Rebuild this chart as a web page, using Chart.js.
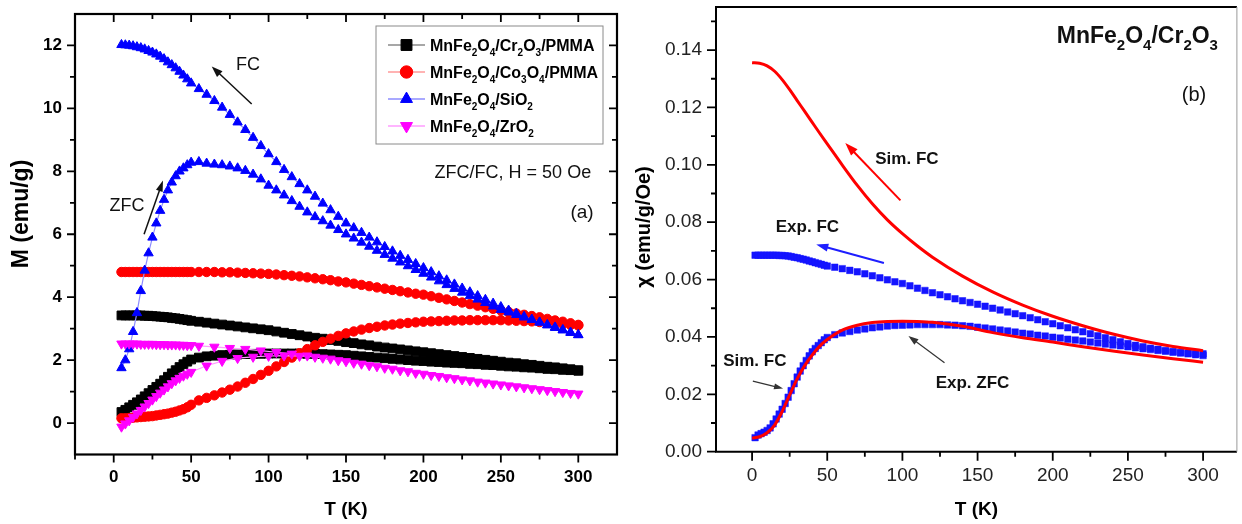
<!DOCTYPE html>
<html>
<head>
<meta charset="utf-8">
<script src="https://cdn.jsdelivr.net/npm/chart.js@4.4.1/dist/chart.umd.min.js"></script>
<style>
  body { margin: 0; background: #fff; width: 1242px; height: 524px; overflow: hidden; position: relative; }
  canvas { position: absolute; top: 0; }
  #chartA { left: 0; }
  #chartB { left: 625px; }
</style>
</head>
<body>
<canvas id="chartA" width="625" height="524"></canvas>
<canvas id="chartB" width="617" height="524"></canvas>
<script>
// ---- panel (a): temperatures (K) ----
const tLow = [5, 7.5, 10, 12.5, 15, 17.5, 20, 22.5, 25, 27.5, 30, 32.5, 35, 37.5, 40, 42.5, 45, 47.5, 50];
const tHigh = [55, 60, 65, 70, 75, 80, 85, 90, 95, 100, 105, 110, 115, 120, 125, 130, 135, 140, 145, 150,
  155, 160, 165, 170, 175, 180, 185, 190, 195, 200, 205, 210, 215, 220, 225, 230, 235, 240, 245, 250,
  255, 260, 265, 270, 275, 280, 285, 290, 295, 300];
const tZrZfcHigh = [60, 70, 80, 90, 100, 110, 120, 130, 140, 150, 160, 170, 180, 190, 200, 210, 220, 230, 240, 250, 260, 270, 280, 290, 300];
const tZrFcHigh = [55, 65, 75, 85, 95, 105, 115, 125, 135, 145, 155, 165, 175, 185, 195, 205, 215, 225, 235, 245, 255, 265, 275, 285, 295];

// MnFe2O4/Cr2O3/PMMA (emu/g)
const crZfcLow = [0.35, 0.42, 0.5, 0.58, 0.66, 0.75, 0.85, 0.95, 1.05, 1.15, 1.25, 1.36, 1.47, 1.58, 1.68, 1.78, 1.87, 1.95, 2.02];
const crZfcHigh = [2.08, 2.12, 2.14, 2.16, 2.17, 2.18, 2.19, 2.2, 2.2, 2.21, 2.21, 2.21, 2.21, 2.21, 2.2, 2.2, 2.19, 2.18, 2.17, 2.16,
  2.14, 2.12, 2.1, 2.08, 2.06, 2.04, 2.02, 2.0, 1.98, 1.97, 1.95, 1.94, 1.92, 1.91, 1.9, 1.88, 1.87, 1.85, 1.84, 1.82,
  1.8, 1.79, 1.77, 1.76, 1.74, 1.72, 1.71, 1.69, 1.68, 1.66];
const crFcLow = [3.42, 3.42, 3.42, 3.42, 3.42, 3.42, 3.41, 3.41, 3.4, 3.39, 3.38, 3.37, 3.36, 3.34, 3.33, 3.31, 3.29, 3.27, 3.25];
const crFcHigh = [3.22, 3.19, 3.16, 3.13, 3.1, 3.07, 3.04, 3.01, 2.98, 2.95, 2.91, 2.87, 2.83, 2.79, 2.75, 2.71, 2.68, 2.64, 2.61, 2.57,
  2.54, 2.5, 2.47, 2.43, 2.4, 2.37, 2.34, 2.31, 2.28, 2.25, 2.22, 2.19, 2.16, 2.13, 2.1, 2.07, 2.04, 2.01, 1.98, 1.95,
  1.92, 1.9, 1.87, 1.85, 1.82, 1.79, 1.77, 1.74, 1.71, 1.68];

// MnFe2O4/Co3O4/PMMA
const coZfcLow = [0.15, 0.15, 0.16, 0.17, 0.18, 0.19, 0.2, 0.21, 0.22, 0.24, 0.26, 0.28, 0.3, 0.33, 0.36, 0.4, 0.44, 0.5, 0.58];
const coZfcHigh = [0.72, 0.8, 0.88, 0.97, 1.06, 1.16, 1.28, 1.4, 1.53, 1.66, 1.8, 1.94, 2.08, 2.22, 2.35, 2.47, 2.58, 2.68, 2.77, 2.85,
  2.91, 2.97, 3.02, 3.06, 3.1, 3.13, 3.16, 3.18, 3.2, 3.22, 3.23, 3.24, 3.25, 3.26, 3.26, 3.27, 3.27, 3.27, 3.27, 3.27,
  3.26, 3.25, 3.24, 3.23, 3.21, 3.19, 3.17, 3.15, 3.12, 3.1];
const coFcLow = [4.8, 4.8, 4.8, 4.8, 4.8, 4.8, 4.8, 4.8, 4.8, 4.8, 4.8, 4.8, 4.8, 4.8, 4.8, 4.8, 4.8, 4.8, 4.8];
const coFcHigh = [4.8, 4.8, 4.8, 4.79, 4.79, 4.78, 4.77, 4.76, 4.75, 4.74, 4.72, 4.7, 4.68, 4.66, 4.63, 4.6, 4.57, 4.54, 4.5, 4.47,
  4.43, 4.39, 4.35, 4.31, 4.27, 4.23, 4.19, 4.15, 4.11, 4.08, 4.03, 3.98, 3.93, 3.88, 3.83, 3.78, 3.73, 3.68, 3.63, 3.58,
  3.53, 3.48, 3.44, 3.4, 3.36, 3.31, 3.26, 3.22, 3.17, 3.12];

// MnFe2O4/SiO2
const siZfcLow = [1.75, 2.0, 2.35, 2.9, 3.5, 4.2, 4.85, 5.4, 5.9, 6.35, 6.75, 7.1, 7.4, 7.65, 7.85, 8.0, 8.1, 8.2, 8.28];
const siZfcHigh = [8.3, 8.25, 8.22, 8.2, 8.16, 8.1, 8.02, 7.9, 7.75, 7.55, 7.4, 7.24, 7.06, 6.88, 6.7, 6.55, 6.42, 6.28, 6.14, 6.0,
  5.87, 5.74, 5.61, 5.48, 5.35, 5.23, 5.11, 4.99, 4.87, 4.75, 4.63, 4.51, 4.39, 4.27, 4.15, 4.04, 3.93, 3.82, 3.71, 3.6,
  3.52, 3.44, 3.36, 3.28, 3.2, 3.12, 3.04, 2.96, 2.88, 2.8];
const siFcLow = [12.02, 12.01, 12.0, 11.98, 11.95, 11.92, 11.88, 11.83, 11.78, 11.72, 11.65, 11.57, 11.47, 11.38, 11.28, 11.17, 11.05, 10.93, 10.8];
const siFcHigh = [10.62, 10.44, 10.24, 10.03, 9.8, 9.56, 9.32, 9.07, 8.81, 8.55, 8.3, 8.05, 7.82, 7.6, 7.4, 7.2, 6.98, 6.77, 6.56, 6.35,
  6.2, 6.05, 5.9, 5.75, 5.6, 5.46, 5.32, 5.19, 5.06, 4.93, 4.8, 4.67, 4.54, 4.41, 4.28, 4.16, 4.04, 3.92, 3.8, 3.69,
  3.58, 3.48, 3.38, 3.29, 3.2, 3.11, 3.03, 2.95, 2.87, 2.8];

// MnFe2O4/ZrO2
const zrZfcLow = [-0.12, -0.02, 0.08, 0.19, 0.3, 0.41, 0.52, 0.63, 0.74, 0.85, 0.96, 1.06, 1.16, 1.26, 1.35, 1.43, 1.5, 1.56, 1.62];
const zrZfcHigh = [1.82, 1.97, 2.06, 2.1, 2.13, 2.14, 2.13, 2.1, 2.04, 1.96, 1.88, 1.8, 1.72, 1.64, 1.56, 1.49, 1.42, 1.35, 1.28, 1.22,
  1.16, 1.1, 1.04, 0.98, 0.93];
const zrFcLow = [2.52, 2.52, 2.52, 2.52, 2.52, 2.51, 2.51, 2.51, 2.51, 2.5, 2.5, 2.5, 2.49, 2.49, 2.49, 2.48, 2.48, 2.47, 2.47];
const zrFcHigh = [2.45, 2.42, 2.38, 2.35, 2.3, 2.25, 2.2, 2.14, 2.07, 1.99, 1.91, 1.83, 1.75, 1.67, 1.59, 1.52, 1.45, 1.38, 1.31, 1.25,
  1.19, 1.13, 1.07, 1.01, 0.95];

const sampleNames = ['MnFe_2O_4/Cr_2O_3/PMMA', 'MnFe_2O_4/Co_3O_4/PMMA', 'MnFe_2O_4/SiO_2', 'MnFe_2O_4/ZrO_2'];
const xTicksA = [0, 50, 100, 150, 200, 250, 300];
const xMinorA = [-25, 25, 75, 125, 175, 225, 275];
const yTicksA = [0, 2, 4, 6, 8, 10, 12];
const yMinorA = [1, 3, 5, 7, 9, 11];

// ---- panel (b): chi (emu/g/Oe) ----
const tSimFc = [0, 5, 10, 15, 20, 25, 30, 35, 40, 45, 50, 60, 70, 80, 90, 100, 110, 120, 140, 160, 180, 200, 220, 240, 260, 280, 300];
const simFc = [0.1356, 0.1354, 0.1345, 0.1326, 0.1297, 0.1262, 0.1224, 0.1186, 0.1148, 0.111, 0.1073, 0.0999, 0.0928, 0.0864, 0.0808,
  0.076, 0.0717, 0.0678, 0.0612, 0.0557, 0.0511, 0.0472, 0.0439, 0.041, 0.0386, 0.0367, 0.0352];
const tSimZfc = [0, 5, 10, 15, 20, 25, 30, 35, 40, 45, 50, 60, 70, 80, 90, 100, 110, 120, 140, 160, 180, 200, 220, 240, 260, 280, 300];
const simZfc = [0.0047, 0.0052, 0.0066, 0.0093, 0.014, 0.0198, 0.0254, 0.03, 0.0337, 0.0368, 0.0391, 0.0424, 0.0441, 0.045, 0.0454,
  0.0455, 0.0454, 0.0451, 0.0437, 0.0415, 0.0397, 0.0382, 0.0366, 0.0351, 0.0337, 0.0324, 0.0312];
const tExpLow = [2, 4, 6, 8, 10, 12, 14, 16, 18, 20, 22, 24, 26, 28, 30, 32, 34, 36, 38, 40, 42, 44, 46, 48, 50];
const expZfcLow = [0.0049, 0.0058, 0.0063, 0.0068, 0.0074, 0.0083, 0.0097, 0.0114, 0.0131, 0.0148, 0.0168, 0.019, 0.0213, 0.0237, 0.026,
  0.0281, 0.03, 0.0318, 0.0334, 0.0348, 0.036, 0.037, 0.038, 0.039, 0.0398];
const expZfcHigh = [0.0408, 0.0414, 0.0419, 0.0424, 0.0428, 0.0432, 0.0435, 0.0438, 0.044, 0.0441, 0.0442, 0.0443, 0.0443, 0.0443, 0.0443,
  0.0442, 0.0441, 0.0439, 0.0437, 0.0434, 0.0431, 0.0428, 0.0424, 0.0421, 0.0417, 0.0413, 0.041, 0.0406, 0.0403, 0.0399,
  0.0396, 0.0392, 0.0389, 0.0386, 0.0382, 0.0379, 0.0375, 0.0372, 0.0369, 0.0366, 0.0362, 0.0359, 0.0356, 0.0353, 0.035,
  0.0347, 0.0344, 0.0341, 0.0338, 0.0335];
const expFcLow = [0.0685, 0.0685, 0.0685, 0.0685, 0.0685, 0.0685, 0.0685, 0.0685, 0.0684, 0.0684, 0.0683, 0.0682, 0.068, 0.0678, 0.0676,
  0.0673, 0.0671, 0.0668, 0.0665, 0.0662, 0.0659, 0.0656, 0.0653, 0.065, 0.0647];
const expFcHigh = [0.0643, 0.0638, 0.0632, 0.0627, 0.062, 0.0613, 0.0606, 0.0599, 0.0592, 0.0586, 0.0578, 0.057, 0.0562, 0.0554, 0.0547,
  0.054, 0.0533, 0.0526, 0.052, 0.0514, 0.0507, 0.05, 0.0494, 0.0487, 0.0481, 0.0474, 0.0467, 0.046, 0.0453, 0.0446,
  0.0439, 0.0432, 0.0425, 0.0418, 0.0411, 0.0404, 0.0397, 0.039, 0.0383, 0.0377, 0.0371, 0.0366, 0.0361, 0.0357, 0.0353,
  0.0349, 0.0346, 0.0344, 0.0342, 0.0341];

const xTicksB = [0, 50, 100, 150, 200, 250, 300];
const xMinorB = [25, 75, 125, 175, 225, 275];
const yTicksB = [0, 0.02, 0.04, 0.06, 0.08, 0.1, 0.12, 0.14];
const yMinorB = [0.01, 0.03, 0.05, 0.07, 0.09, 0.11, 0.13, 0.15];

const FONT = '"Liberation Sans", Arial, Helvetica, sans-serif';
Chart.defaults.font.family = FONT;

// build points: ZFC going up, then FC coming back down
function pairs(ts, vs) {
  return ts.map((t, i) => ({ x: t, y: vs[i] }));
}
function loop(tZ, vZ, tF, vF) {
  return pairs(tZ, vZ).concat(pairs(tF, vF).reverse());
}

// fixed axis box, no extra label padding
function fixBox(size, horizontal) {
  return s => {
    if (horizontal) s.height = size; else s.width = size;
    s.paddingTop = 0; s.paddingBottom = 0; s.paddingLeft = 0; s.paddingRight = 0;
  };
}

// text with _x subscripts
function richText(ctx, str, x, y, size, bold, align) {
  const subSize = Math.round(size * 0.64);
  const w = bold ? 'bold ' : '';
  const parts = [];
  for (let i = 0; i < str.length; i++) {
    if (str[i] === '_') { parts.push({ t: str[i + 1], sub: true }); i++; }
    else if (parts.length && !parts[parts.length - 1].sub) parts[parts.length - 1].t += str[i];
    else parts.push({ t: str[i], sub: false });
  }
  let total = 0;
  parts.forEach(p => {
    ctx.font = w + (p.sub ? subSize : size) + 'px ' + FONT;
    p.w = ctx.measureText(p.t).width;
    total += p.w;
  });
  let cx = align === 'right' ? x - total : (align === 'center' ? x - total / 2 : x);
  ctx.textAlign = 'left';
  ctx.textBaseline = 'alphabetic';
  parts.forEach(p => {
    ctx.font = w + (p.sub ? subSize : size) + 'px ' + FONT;
    ctx.fillText(p.t, cx, y + (p.sub ? size * 0.3 : 0));
    cx += p.w;
  });
}

function arrow(ctx, x1, y1, x2, y2, color, lw, hl, hw) {
  const a = Math.atan2(y2 - y1, x2 - x1);
  const c = Math.cos(a), s = Math.sin(a);
  ctx.save();
  ctx.strokeStyle = color;
  ctx.fillStyle = color;
  ctx.lineWidth = lw;
  ctx.beginPath();
  ctx.moveTo(x1, y1);
  ctx.lineTo(x2 - hl * 0.8 * c, y2 - hl * 0.8 * s);
  ctx.stroke();
  ctx.beginPath();
  ctx.moveTo(x2, y2);
  ctx.lineTo(x2 - hl * c + hw / 2 * s, y2 - hl * s - hw / 2 * c);
  ctx.lineTo(x2 - hl * c - hw / 2 * s, y2 - hl * s + hw / 2 * c);
  ctx.closePath();
  ctx.fill();
  ctx.restore();
}

function label(ctx, text, x, y, size, bold, align) {
  ctx.font = (bold ? 'bold ' : '') + size + 'px ' + FONT;
  ctx.textAlign = align || 'center';
  ctx.textBaseline = 'middle';
  ctx.fillText(text, x, y);
}

function rotTitle(ctx, text, x, y, size) {
  ctx.save();
  ctx.translate(x, y);
  ctx.rotate(-Math.PI / 2);
  label(ctx, text, 0, 0, size, true);
  ctx.restore();
}

// ---- chart (a) ----
const styleA = [
  { color: '#000000', line: '#8a8a8a', style: 'rect', radius: 6.2, rotation: 0 },
  { color: '#ff0000', line: '#ff9a9a', style: 'circle', radius: 4.7, rotation: 0 },
  { color: '#0000ff', line: '#8c8cff', style: 'triangle', radius: 5.4, rotation: 0 },
  { color: '#ff00ff', line: '#ff9cff', style: 'triangle', radius: 5.4, rotation: 180 }
];
const loopsA = [
  loop(tLow.concat(tHigh), crZfcLow.concat(crZfcHigh), tLow.concat(tHigh), crFcLow.concat(crFcHigh)),
  loop(tLow.concat(tHigh), coZfcLow.concat(coZfcHigh), tLow.concat(tHigh), coFcLow.concat(coFcHigh)),
  loop(tLow.concat(tHigh), siZfcLow.concat(siZfcHigh), tLow.concat(tHigh), siFcLow.concat(siFcHigh)),
  loop(tLow.concat(tZrZfcHigh), zrZfcLow.concat(zrZfcHigh), tLow.concat(tZrFcHigh), zrFcLow.concat(zrFcHigh))
];

const panelA = {
  id: 'panelA',
  afterDraw(chart) {
    const ctx = chart.ctx;
    const { left, right, top, bottom } = chart.chartArea;
    const xs = chart.scales.x, ys = chart.scales.y;
    ctx.save();
    ctx.strokeStyle = '#000';
    ctx.lineWidth = 2.2;
    ctx.strokeRect(left, top, right - left, bottom - top);
    ctx.lineWidth = 1.8;
    ctx.beginPath();
    xTicksA.concat(xMinorA).forEach((v, i) => {
      const p = xs.getPixelForValue(v);
      const len = i < xTicksA.length ? 8 : 5;
      ctx.moveTo(p, bottom); ctx.lineTo(p, bottom + len);
      ctx.moveTo(p, top); ctx.lineTo(p, top + len);
    });
    yTicksA.concat(yMinorA).forEach((v, i) => {
      const p = ys.getPixelForValue(v);
      const len = i < yTicksA.length ? 8 : 5;
      ctx.moveTo(left, p); ctx.lineTo(left - len, p);
      ctx.moveTo(right, p); ctx.lineTo(right - len, p);
    });
    ctx.stroke();

    // legend
    const bx = right - 241, by = top + 12, bw = 227, bh = 118;
    ctx.fillStyle = '#fff';
    ctx.fillRect(bx, by, bw, bh);
    ctx.strokeStyle = '#8a8a8a';
    ctx.lineWidth = 1;
    ctx.strokeRect(bx, by, bw, bh);
    sampleNames.forEach((name, i) => {
      const st = styleA[i];
      const cy = by + 19 + i * 27;
      ctx.strokeStyle = st.line;
      ctx.lineWidth = 1.5;
      ctx.beginPath(); ctx.moveTo(bx + 12, cy); ctx.lineTo(bx + 49, cy); ctx.stroke();
      ctx.fillStyle = st.color;
      ctx.strokeStyle = st.color;
      ctx.lineWidth = 1;
      Chart.helpers.drawPoint(ctx, { pointStyle: st.style, radius: st.radius + 1.5, rotation: st.rotation, borderWidth: 1 }, bx + 30.5, cy);
      ctx.fillStyle = '#000';
      richText(ctx, name, bx + 54, cy + 5.7, 16, true, 'left');
    });

    // annotations
    ctx.fillStyle = '#111';
    label(ctx, 'FC', xs.getPixelForValue(86.7), ys.getPixelForValue(11.38), 18, false);
    label(ctx, 'ZFC', xs.getPixelForValue(8.6), ys.getPixelForValue(6.9), 18, false);
    label(ctx, 'ZFC/FC, H = 50 Oe', xs.getPixelForValue(308.3), ys.getPixelForValue(7.95), 18, false, 'right');
    label(ctx, '(a)', xs.getPixelForValue(302.4), ys.getPixelForValue(6.68), 19, false);
    arrow(ctx, xs.getPixelForValue(89.1), ys.getPixelForValue(10.14), xs.getPixelForValue(63.3), ys.getPixelForValue(11.33), '#111', 1.5, 11, 8);
    arrow(ctx, xs.getPixelForValue(19.6), ys.getPixelForValue(6.0), xs.getPixelForValue(31.8), ys.getPixelForValue(7.71), '#111', 1.5, 11, 7);

    // axis titles
    ctx.fillStyle = '#000';
    rotTitle(ctx, 'M (emu/g)', 22, 214, 23);
    label(ctx, 'T (K)', (left + right) / 2, 510, 19, true);
    ctx.restore();
  }
};

new Chart(document.getElementById('chartA'), {
  type: 'scatter',
  data: {
    datasets: sampleNames.map((name, i) => ({
      label: name.replace(/_/g, ''),
      data: loopsA[i],
      showLine: true,
      borderColor: styleA[i].line,
      borderWidth: 1.2,
      pointStyle: styleA[i].style,
      pointRotation: styleA[i].rotation,
      pointRadius: styleA[i].radius,
      pointBackgroundColor: styleA[i].color,
      pointBorderColor: styleA[i].color,
      pointBorderWidth: 1,
      order: 3 - i
    }))
  },
  options: {
    responsive: false,
    animation: false,
    devicePixelRatio: 1,
    layout: { padding: { left: 0, right: 8, top: 14, bottom: 0 } },
    plugins: { legend: { display: false }, tooltip: { enabled: false } },
    scales: {
      x: {
        type: 'linear', min: -25, max: 325,
        afterBuildTicks: s => { s.ticks = xTicksA.map(v => ({ value: v })); },
        afterFit: fixBox(69.5, true),
        grid: { display: false, drawTicks: false },
        border: { display: false },
        ticks: { padding: 13, color: '#000', maxRotation: 0, autoSkip: false, font: { size: 17, weight: 'bold' } }
      },
      y: {
        type: 'linear', min: -1, max: 13,
        afterBuildTicks: s => { s.ticks = yTicksA.map(v => ({ value: v })); },
        afterFit: fixBox(75, false),
        grid: { display: false, drawTicks: false },
        border: { display: false },
        ticks: { padding: 13, color: '#000', autoSkip: false, font: { size: 17, weight: 'bold' } }
      }
    }
  },
  plugins: [panelA]
});

// ---- chart (b) ----
const panelB = {
  id: 'panelB',
  afterDraw(chart) {
    const ctx = chart.ctx;
    const { left, right, top, bottom } = chart.chartArea;
    const xs = chart.scales.x, ys = chart.scales.y;
    ctx.save();
    ctx.strokeStyle = '#000';
    ctx.lineWidth = 2;
    ctx.beginPath();
    ctx.moveTo(right, top); ctx.lineTo(left, top); ctx.lineTo(left, bottom); ctx.lineTo(right, bottom);
    ctx.stroke();
    ctx.strokeStyle = '#9a9a9a';
    ctx.lineWidth = 1;
    ctx.beginPath(); ctx.moveTo(right, top); ctx.lineTo(right, bottom); ctx.stroke();
    ctx.strokeStyle = '#000';
    ctx.lineWidth = 1.8;
    ctx.beginPath();
    xTicksB.concat(xMinorB).forEach((v, i) => {
      const p = xs.getPixelForValue(v);
      const len = i < xTicksB.length ? 9 : 5;
      ctx.moveTo(p, bottom); ctx.lineTo(p, bottom + len);
    });
    yTicksB.concat(yMinorB).forEach((v, i) => {
      const p = ys.getPixelForValue(v);
      const len = i < yTicksB.length ? 9 : 5;
      ctx.moveTo(left, p); ctx.lineTo(left - len, p);
    });
    ctx.stroke();

    ctx.fillStyle = '#111';
    richText(ctx, 'MnFe_2O_4/Cr_2O_3', xs.getPixelForValue(309.9), ys.getPixelForValue(0.1423), 23, true, 'right');
    label(ctx, '(b)', xs.getPixelForValue(294), ys.getPixelForValue(0.124), 20, false);
    label(ctx, 'Sim. FC', xs.getPixelForValue(103), ys.getPixelForValue(0.102), 17, true);
    label(ctx, 'Exp. FC', xs.getPixelForValue(36.8), ys.getPixelForValue(0.0783), 17, true);
    label(ctx, 'Sim. FC', xs.getPixelForValue(1.8), ys.getPixelForValue(0.0316), 17, true);
    label(ctx, 'Exp. ZFC', xs.getPixelForValue(146.6), ys.getPixelForValue(0.0239), 17, true);
    arrow(ctx, xs.getPixelForValue(98.7), ys.getPixelForValue(0.0876), xs.getPixelForValue(62), ys.getPixelForValue(0.1076), '#ff0000', 2, 13, 9);
    arrow(ctx, xs.getPixelForValue(87.7), ys.getPixelForValue(0.0658), xs.getPixelForValue(42.7), ys.getPixelForValue(0.0722), '#1e1eff', 2, 12, 8);
    arrow(ctx, xs.getPixelForValue(0.5), ys.getPixelForValue(0.0246), xs.getPixelForValue(20.6), ys.getPixelForValue(0.022), '#333', 1.2, 9, 6);
    arrow(ctx, xs.getPixelForValue(128), ys.getPixelForValue(0.031), xs.getPixelForValue(104), ys.getPixelForValue(0.0403), '#333', 1.2, 10, 7);

    ctx.fillStyle = '#000';
    rotTitle(ctx, 'χ (emu/g/Oe)', 19, 227, 20);
    label(ctx, 'T (K)', (left + right) / 2, 510, 19, true);
    ctx.restore();
  }
};

new Chart(document.getElementById('chartB'), {
  type: 'scatter',
  data: {
    datasets: [
      { label: 'Exp. FC', data: pairs(tExpLow.concat(tHigh), expFcLow.concat(expFcHigh)), showLine: false,
        pointStyle: 'rect', pointRadius: 4.6, pointBackgroundColor: '#1414ff', pointBorderColor: '#1414ff', pointBorderWidth: 0.5, order: 1 },
      { label: 'Exp. ZFC', data: pairs(tExpLow.concat(tHigh), expZfcLow.concat(expZfcHigh)), showLine: false,
        pointStyle: 'rect', pointRadius: 4.6, pointBackgroundColor: '#1414ff', pointBorderColor: '#1414ff', pointBorderWidth: 0.5, order: 1 },
      { label: 'Sim. FC', data: pairs(tSimFc, simFc), showLine: true, pointRadius: 0,
        borderColor: '#ff0000', borderWidth: 3, cubicInterpolationMode: 'monotone', order: 0 },
      { label: 'Sim. ZFC', data: pairs(tSimZfc, simZfc), showLine: true, pointRadius: 0,
        borderColor: '#ff0000', borderWidth: 3, cubicInterpolationMode: 'monotone', order: 0 }
    ]
  },
  options: {
    responsive: false,
    animation: false,
    devicePixelRatio: 1,
    layout: { padding: { left: 0, right: 2, top: 7, bottom: 0 } },
    plugins: { legend: { display: false }, tooltip: { enabled: false } },
    scales: {
      x: {
        type: 'linear', min: -24, max: 322.5,
        afterBuildTicks: s => { s.ticks = xTicksB.map(v => ({ value: v })); },
        afterFit: fixBox(72.3, true),
        grid: { display: false, drawTicks: false },
        border: { display: false },
        ticks: { padding: 13, color: '#222', maxRotation: 0, autoSkip: false, font: { size: 19 } }
      },
      y: {
        type: 'linear', min: 0, max: 0.155,
        afterBuildTicks: s => { s.ticks = yTicksB.map(v => ({ value: v })); },
        afterFit: fixBox(91, false),
        grid: { display: false, drawTicks: false },
        border: { display: false },
        ticks: { padding: 14, color: '#222', autoSkip: false, font: { size: 19 }, callback: v => v.toFixed(2) }
      }
    }
  },
  plugins: [panelB]
});
</script>
</body>
</html>
